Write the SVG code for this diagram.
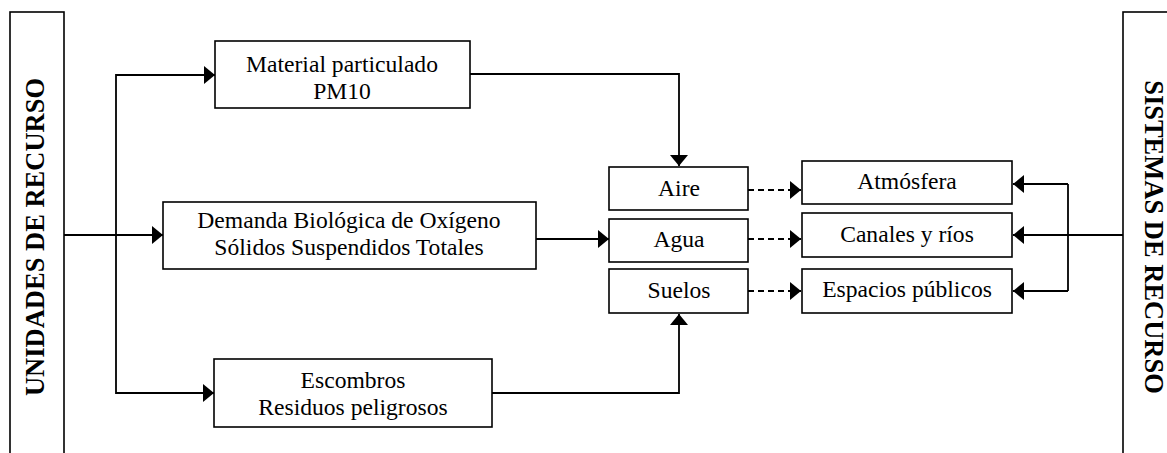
<svg xmlns="http://www.w3.org/2000/svg" width="1167" height="453" viewBox="0 0 1167 453">
<style>
.box{fill:#fff;stroke:#000;stroke-width:1.6}
.t{font-family:"Liberation Serif","Times New Roman",serif;font-size:23.6px;fill:#000;text-anchor:middle}
.title{font-family:"Liberation Serif","Times New Roman",serif;font-size:26.5px;font-weight:bold;fill:#000;text-anchor:middle}
.ln{fill:none;stroke:#000;stroke-width:1.8}
.dash{fill:none;stroke:#000;stroke-width:1.8;stroke-dasharray:6 4}
</style>
<defs>
<marker id="ah" markerUnits="userSpaceOnUse" markerWidth="11" markerHeight="18" refX="11" refY="9" orient="auto">
<path d="M0,0 L11,9 L0,18 z" fill="#000"/>
</marker>
</defs>
<rect width="1167" height="453" fill="#fff"/>
<g id="connectors">
<path class="ln" d="M64,235 H163" marker-end="url(#ah)"/>
<path class="ln" d="M215,75 H116 V393 H214" marker-end="url(#ah)"/>
<path class="ln" d="M116,75 H215" marker-end="url(#ah)"/>
<path class="ln" d="M470,74 H679 V166" marker-end="url(#ah)"/>
<path class="ln" d="M536,239 H609" marker-end="url(#ah)"/>
<path class="ln" d="M492,393 H679 V314" marker-end="url(#ah)"/>
<path class="dash" d="M748,190 H801" marker-end="url(#ah)"/>
<path class="dash" d="M748,239 H801" marker-end="url(#ah)"/>
<path class="dash" d="M748,291 H801" marker-end="url(#ah)"/>
<path class="ln" d="M1123,235 H1013" marker-end="url(#ah)"/>
<path class="ln" d="M1068,184 V291"/>
<path class="ln" d="M1068,184 H1013" marker-end="url(#ah)"/>
<path class="ln" d="M1068,291 H1013" marker-end="url(#ah)"/>
</g>
<g id="unidades">
<rect class="box" x="10" y="12" width="54" height="460"/>
<text class="title" x="44" y="237" transform="rotate(-90 44 237)">UNIDADES DE RECURSO</text>
</g>
<g id="sistemas">
<rect class="box" x="1123" y="12" width="80" height="460"/>
<text class="title" x="1145" y="237" transform="rotate(90 1145 237)">SISTEMAS DE RECURSO</text>
</g>
<g id="material">
<rect class="box" x="215" y="41" width="255" height="67"/>
<text class="t" x="342" y="72">Material particulado</text>
<text class="t" x="342" y="99">PM10</text>
</g>
<g id="demanda">
<rect class="box" x="163" y="202" width="373" height="67"/>
<text class="t" x="349" y="228">Demanda Biológica de Oxígeno</text>
<text class="t" x="349" y="255">Sólidos Suspendidos Totales</text>
</g>
<g id="escombros">
<rect class="box" x="214" y="359" width="278" height="68"/>
<text class="t" x="353" y="388">Escombros</text>
<text class="t" x="353" y="415">Residuos peligrosos</text>
</g>
<g id="aire">
<rect class="box" x="609" y="167" width="139" height="43"/>
<text class="t" x="679" y="196">Aire</text>
</g>
<g id="agua">
<rect class="box" x="609" y="219" width="139" height="43"/>
<text class="t" x="679" y="247">Agua</text>
</g>
<g id="suelos">
<rect class="box" x="609" y="269" width="139" height="44"/>
<text class="t" x="679" y="298">Suelos</text>
</g>
<g id="atmosfera">
<rect class="box" x="802" y="161" width="210" height="43"/>
<text class="t" x="907" y="189">Atmósfera</text>
</g>
<g id="canales">
<rect class="box" x="802" y="213" width="210" height="44"/>
<text class="t" x="907" y="242">Canales y ríos</text>
</g>
<g id="espacios">
<rect class="box" x="802" y="269" width="210" height="44"/>
<text class="t" x="907" y="297">Espacios públicos</text>
</g>
</svg>
